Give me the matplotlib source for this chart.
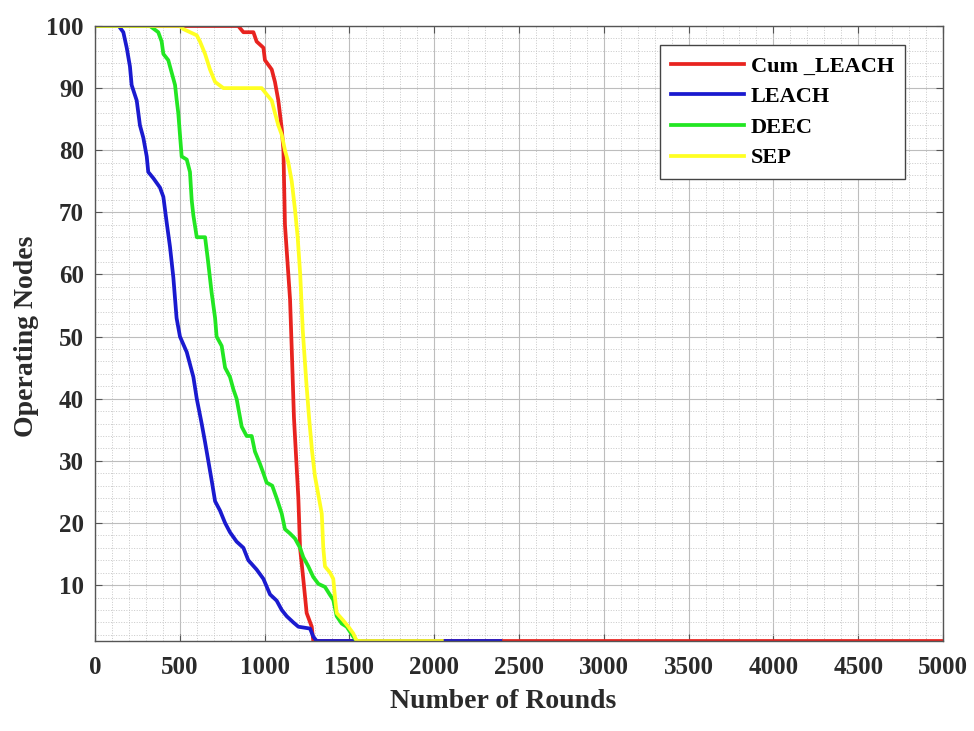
import numpy as np
import matplotlib
matplotlib.use("Agg")
import matplotlib.pyplot as plt
from matplotlib.ticker import MultipleLocator

# alive nodes vs. round for each protocol (sampled from the simulation curves)
cum_leach_x = [0, 845, 875, 934, 953, 993, 1002, 1042, 1061, 1081, 1101, 1111, 1120,
               1150, 1160, 1173, 1189, 1199, 1209, 1228, 1248, 1278, 1287, 5000]
cum_leach_y = [100, 100, 99, 99, 97.5, 96.5, 94.5, 93, 91, 88, 83.5, 80, 68,
               56, 48, 37, 29, 24, 16, 11, 5.5, 3.3, 1, 1]

leach_x = [0, 140, 167, 187, 206, 216, 246, 265, 285, 305, 314, 344, 383, 403, 422,
           442, 462, 481, 501, 541, 580, 600, 629, 649, 668, 690, 708, 737, 767,
           796, 835, 875, 904, 953, 993, 1032, 1071, 1101, 1130, 1169, 1199, 1268,
           1287, 1307, 2390]
leach_y = [100, 100, 99, 96.5, 93.5, 90.5, 88, 84, 82, 79, 76.5, 75.5, 74, 72.5, 68.5,
           64.5, 59.5, 53, 50, 47.5, 43.5, 40, 36, 33, 30, 26.5, 23.5, 22, 20,
           18.5, 17, 16, 14, 12.5, 11, 8.5, 7.5, 6, 5, 4, 3.3, 3,
           1.7, 1, 1]

deec_x = [0, 324, 373, 393, 403, 432, 452, 472, 482, 491, 501, 511, 541, 560, 570,
          580, 600, 649, 665, 688, 708, 717, 747, 767, 796, 816, 835, 865, 894,
          924, 943, 973, 993, 1012, 1045, 1071, 1101, 1120, 1150, 1179, 1209,
          1228, 1258, 1287, 1317, 1356, 1386, 1405, 1425, 1455, 1484, 1523, 1543,
          1560]
deec_y = [100, 100, 99, 97.5, 95.5, 94.5, 92.5, 90.5, 88, 86, 82.5, 79, 78.5, 76.5, 72,
          69.5, 66, 66, 62.5, 57, 53, 50, 48.5, 45, 43.5, 41.5, 40, 35.5, 34,
          34, 31.5, 29.5, 28, 26.5, 26, 24, 21.5, 19, 18.3, 17.5, 16,
          14.5, 13, 11.3, 10.2, 9.7, 8.4, 7.6, 5, 3.8, 3.3, 1.7, 1,
          1]

sep_x = [0, 501, 521, 600, 619, 649, 678, 708, 757, 816, 983, 1012, 1042, 1061,
         1081, 1101, 1120, 1140, 1160, 1179, 1195, 1210, 1225, 1245, 1262, 1280,
         1297, 1317, 1337, 1346, 1356, 1386, 1405, 1415, 1425, 1464, 1494, 1523,
         1543, 2045]
sep_y = [100, 100, 99.5, 98.5, 97.5, 95.5, 93, 91, 90, 90, 90, 89, 88, 86,
         84, 82.5, 80, 78, 75, 70.5, 66, 60, 51, 43, 37, 31.5,
         27.5, 24.5, 21.5, 16, 13, 12, 11, 8, 5.5, 4.3, 3.3, 2.2,
         1, 1]

series = [
    ("Cum _LEACH", cum_leach_x, cum_leach_y, "#e8231f"),
    ("LEACH", leach_x, leach_y, "#1a1acf"),
    ("DEEC", deec_x, deec_y, "#22e622"),
    ("SEP", sep_x, sep_y, "#ffff22"),
]

plt.rcParams["font.family"] = ["Liberation Serif", "DejaVu Serif"]
plt.rcParams["font.weight"] = "bold"

fig = plt.figure(figsize=(9.74, 7.31), dpi=100)
ax = fig.add_axes([95 / 974, 1 - 641 / 731, 848 / 974, 615 / 731])

for label, x, y, c in series:
    ax.plot(x, y, color=c, linewidth=2.7, label=label, solid_joinstyle="round")

ax.set_xlim(0, 5000)
ax.set_ylim(1, 100)
ax.xaxis.set_major_locator(MultipleLocator(500))
ax.xaxis.set_minor_locator(MultipleLocator(100))
ax.set_yticks(np.arange(10, 101, 10))
ax.yaxis.set_minor_locator(MultipleLocator(2))

ax.grid(which="major", color="#bdbdbd", linewidth=0.8, linestyle="-")
ax.grid(which="minor", color="#c8c8c8", linewidth=0.7, linestyle=":")
ax.set_axisbelow(True)

ax.tick_params(which="both", direction="in", top=True, right=True, colors="#555555",
               labelcolor="#2a2a2a")
ax.tick_params(which="major", length=5, labelsize=18)
ax.tick_params(axis="x", which="major", pad=11)
ax.tick_params(axis="y", which="major", pad=8)
ax.tick_params(which="minor", length=0)
for lbl in ax.get_xticklabels() + ax.get_yticklabels():
    lbl.set_fontweight("bold")
for sp in ax.spines.values():
    sp.set_color("#555555")
    sp.set_linewidth(1.0)

ax.set_xlabel("Number of Rounds", fontsize=20, fontweight="bold", color="#2a2a2a")
ax.set_ylabel("Operating Nodes", fontsize=20, fontweight="bold", color="#2a2a2a")
ax.xaxis.set_label_coords((503 - 95) / 848, -0.078)
ax.yaxis.set_label_coords(-0.066, 0.495)

leg = ax.legend(loc="upper right",
                bbox_to_anchor=((905 - 95) / 848, 1 - (45 - 26) / 615),
                prop={"family": "Liberation Serif", "weight": "bold", "size": 16},
                handlelength=3.3, labelspacing=0.45, handletextpad=0.3,
                borderpad=0.5, borderaxespad=0, fancybox=False, framealpha=1,
                edgecolor="#444444")
leg.get_frame().set_linewidth(1.0)

fig.savefig("out.png", dpi=100)
